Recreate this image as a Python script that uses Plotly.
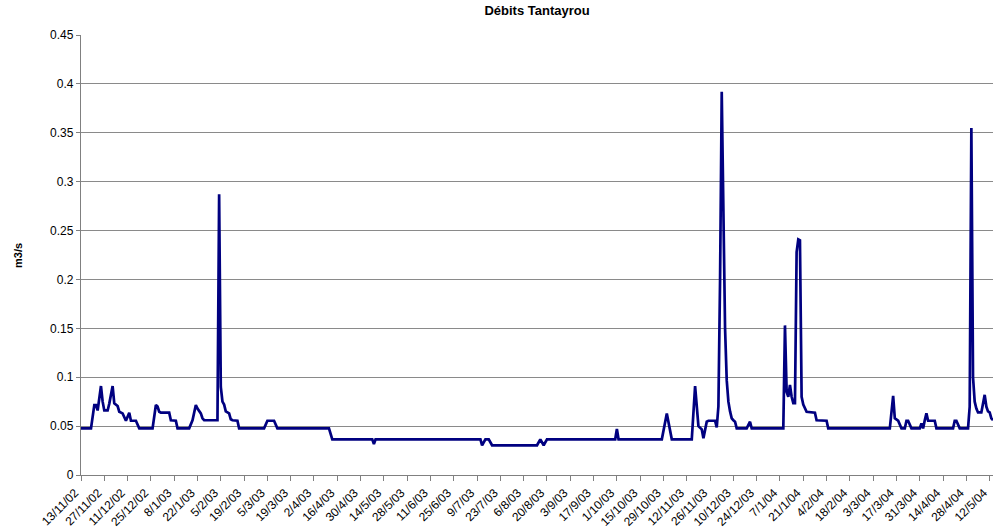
import plotly.graph_objects as go

title_text = "Débits Tantayrou"
y_title = "m3/s"

dates = [
    "2002-11-13", "2002-11-19", "2002-11-21", "2002-11-22", "2002-11-23", "2002-11-25",
    "2002-11-26", "2002-11-27", "2002-11-29", "2002-11-30", "2002-12-02", "2002-12-03",
    "2002-12-05", "2002-12-06", "2002-12-08", "2002-12-10", "2002-12-12", "2002-12-13",
    "2002-12-16", "2002-12-18", "2002-12-26", "2002-12-28", "2002-12-29", "2002-12-30",
    "2002-12-31", "2003-01-05", "2003-01-06", "2003-01-09", "2003-01-10", "2003-01-17",
    "2003-01-19", "2003-01-21", "2003-01-22", "2003-01-23", "2003-01-24", "2003-01-25",
    "2003-01-26", "2003-02-03", "2003-02-04", "2003-02-05", "2003-02-06", "2003-02-07",
    "2003-02-08", "2003-02-10", "2003-02-11", "2003-02-12", "2003-02-15", "2003-02-16",
    "2003-03-03", "2003-03-05", "2003-03-09", "2003-03-11", "2003-04-11", "2003-04-13",
    "2003-05-07", "2003-05-08", "2003-05-09", "2003-07-11", "2003-07-12", "2003-07-14",
    "2003-07-16", "2003-07-18", "2003-08-14", "2003-08-16", "2003-08-18", "2003-08-20",
    "2003-09-30", "2003-10-01", "2003-10-02", "2003-10-28", "2003-10-31", "2003-11-03",
    "2003-11-15", "2003-11-17", "2003-11-18", "2003-11-19", "2003-11-21", "2003-11-22",
    "2003-11-24", "2003-11-25", "2003-11-29", "2003-11-30", "2003-12-01", "2003-12-02",
    "2003-12-03", "2003-12-04", "2003-12-05", "2003-12-06", "2003-12-07", "2003-12-08",
    "2003-12-09", "2003-12-10", "2003-12-11", "2003-12-12", "2003-12-18", "2003-12-20",
    "2003-12-21", "2004-01-09", "2004-01-10", "2004-01-11", "2004-01-12", "2004-01-13",
    "2004-01-14", "2004-01-15", "2004-01-16", "2004-01-17", "2004-01-18", "2004-01-19",
    "2004-01-20", "2004-01-21", "2004-01-23", "2004-01-28", "2004-01-29", "2004-02-04",
    "2004-02-05", "2004-03-13", "2004-03-15", "2004-03-16", "2004-03-18", "2004-03-20",
    "2004-03-22", "2004-03-23", "2004-03-24", "2004-03-26", "2004-03-31", "2004-04-01",
    "2004-04-02", "2004-04-03", "2004-04-04", "2004-04-05", "2004-04-09", "2004-04-10",
    "2004-04-20", "2004-04-21", "2004-04-22", "2004-04-24", "2004-04-29", "2004-04-30",
    "2004-05-01", "2004-05-02", "2004-05-03", "2004-05-04", "2004-05-05", "2004-05-07",
    "2004-05-08", "2004-05-09", "2004-05-10", "2004-05-11", "2004-05-12", "2004-05-13",
    "2004-05-14",
]

debits = [
    0.0477, 0.0477, 0.0716, 0.0716, 0.066, 0.091,
    0.075, 0.066, 0.066, 0.073, 0.091, 0.0733,
    0.0705, 0.0647, 0.063, 0.0555, 0.0637, 0.0555,
    0.0555, 0.0477, 0.0477, 0.0716, 0.070, 0.0647,
    0.0637, 0.0637, 0.0559, 0.0555, 0.0477, 0.0477,
    0.056, 0.0716, 0.068, 0.065, 0.063, 0.058,
    0.056, 0.056, 0.287, 0.090, 0.075, 0.072,
    0.065, 0.063, 0.057, 0.056, 0.0555, 0.0477,
    0.0477, 0.0555, 0.0555, 0.0477, 0.0477, 0.0365,
    0.0365, 0.0317, 0.0365, 0.0365, 0.0304, 0.0365,
    0.0365, 0.0304, 0.0304, 0.0365, 0.0304, 0.0365,
    0.0365, 0.047, 0.0365, 0.0365, 0.063, 0.0365,
    0.0365, 0.091, 0.065, 0.050, 0.0467, 0.0375,
    0.0545, 0.0555, 0.0555, 0.0487, 0.070, 0.200,
    0.392, 0.250, 0.150, 0.097, 0.075, 0.065,
    0.058, 0.056, 0.0545, 0.0477, 0.0477, 0.0545,
    0.0477, 0.0477, 0.153, 0.085, 0.080, 0.092,
    0.080, 0.0736, 0.0736, 0.228, 0.241, 0.240,
    0.080, 0.072, 0.0647, 0.0637, 0.056, 0.0555,
    0.0477, 0.0477, 0.081, 0.058, 0.0555, 0.0477,
    0.0477, 0.0555, 0.0555, 0.0477, 0.0477, 0.0528,
    0.0477, 0.0559, 0.063, 0.0555, 0.0555, 0.0477,
    0.0477, 0.0555, 0.0555, 0.0477, 0.0477, 0.070,
    0.355, 0.100, 0.075, 0.068, 0.064, 0.064,
    0.075, 0.082, 0.070, 0.065, 0.064, 0.058,
    0.056,
]

x_start = "2002-11-13"
x_end = "2004-05-14"
y_ticks = [0, 0.05, 0.1, 0.15, 0.2, 0.25, 0.3, 0.35, 0.4, 0.45]

FONT = "Liberation Sans, Arial, sans-serif"
AX = "#808080"

fig = go.Figure()
fig.add_trace(go.Scatter(
    x=dates, y=debits, mode="lines",
    line=dict(color="#000080", width=2.7),
    hoverinfo="x+y", showlegend=False,
))

fig.update_layout(
    width=993, height=531,
    margin=dict(l=81, r=0, t=35, b=56, autoexpand=False),
    paper_bgcolor="white", plot_bgcolor="white",
    font=dict(family=FONT, size=12, color="black"),
    title=dict(text="<b>" + title_text + "</b>", x=0.5, xref="paper",
               y=1 - 10 / 531, yref="container", yanchor="middle",
               font=dict(size=13, family=FONT, color="black")),
    xaxis=dict(
        type="date", range=[x_start, x_end],
        tick0=x_start, dtick=14 * 86400000, tickformat="%-d/%-m/%y",
        tickangle=-45, ticks="outside", ticklen=5, tickcolor=AX,
        ticklabeloverflow="allow", ticklabelshift=-6,
        showline=True, linecolor=AX, linewidth=1.3,
        showgrid=False, zeroline=False, automargin=False,
        tickfont=dict(size=12, family=FONT, color="black"),
    ),
    yaxis=dict(
        range=[0, 0.45], tickvals=y_ticks,
        ticktext=[("%g" % v) for v in y_ticks],
        ticks="outside", ticklen=4, tickcolor=AX,
        showline=True, linecolor=AX, linewidth=1.3,
        showgrid=True, gridcolor="#8a8a8a", gridwidth=1,
        zeroline=False, automargin=False,
        tickfont=dict(size=12, family=FONT, color="black"),
    ),
    annotations=[dict(
        text="<b>" + y_title + "</b>", xref="paper", yref="paper",
        x=-63 / 912, y=0.5, xanchor="center", yanchor="middle",
        textangle=-90, showarrow=False,
        font=dict(size=11, family=FONT, color="black"),
    )],
)

fig.write_html(
    "out.html",
    config={"displayModeBar": False},
    post_script="document.body.style.margin='0';document.body.style.overflow='hidden';",
)
